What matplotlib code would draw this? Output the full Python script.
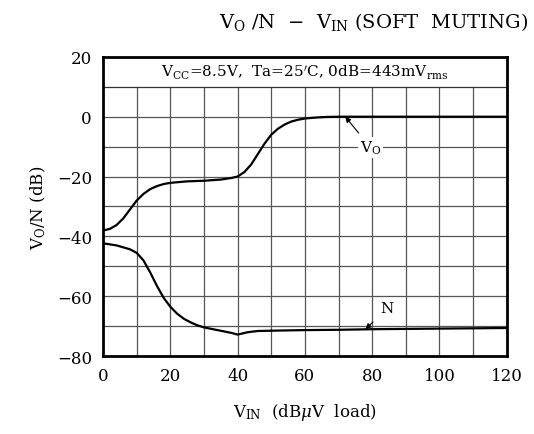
import matplotlib.pyplot as plt

plt.rcParams['font.family'] = ['DejaVu Serif']
plt.rcParams['mathtext.fontset'] = 'dejavuserif'

# 読み取った値
vin_vo = [0, 2, 4, 6, 8, 10, 12, 14, 16, 18, 20, 25, 30, 35, 38, 40, 42, 44, 46, 48, 50,
          52, 54, 56, 58, 60, 63, 66, 70, 80, 100, 120]
vo = [-38, -37.5, -36.2, -34, -31, -28, -25.8, -24.2, -23.2, -22.5, -22.1, -21.6, -21.4, -21,
      -20.5, -20, -18.5, -16, -12.5, -9, -6, -4, -2.6, -1.6, -1, -0.6, -0.3, -0.1, 0, 0, 0, 0]

vin_n = [0, 4, 8, 10, 12, 14, 16, 18, 20, 22, 24, 26, 28, 30, 34, 38, 40, 43, 46, 50,
         60, 70, 80, 100, 120]
noise = [-42.3, -43, -44.3, -45.5, -48, -52, -56.5, -60.5, -63.5, -65.8, -67.5, -68.7,
         -69.7, -70.4, -71.3, -72.2, -72.8, -72, -71.6, -71.5, -71.3, -71.2, -71, -70.8, -70.6]

fig = plt.figure(figsize=(5.34, 4.35), dpi=100)
ax = fig.add_axes([0.193, 0.179, 0.756, 0.688])

ax.set_xlim(0, 120)
ax.set_ylim(-80, 20)

# grid (top row is kept free for the condition text)
for x in range(10, 120, 10):
    ax.plot([x, x], [-80, 10], color='#555555', lw=0.9, zorder=1)
for y in range(-70, 20, 10):
    ax.axhline(y, color='#333333' if y == 10 else '#555555', lw=0.9, zorder=1)

ax.plot(vin_vo, vo, color='black', lw=1.6, zorder=3)
ax.plot(vin_n, noise, color='black', lw=1.6, zorder=3)

ax.text(60, 15, r'V$_{\rm CC}$=8.5V,  Ta=25$^\prime$C, 0dB=443mV$_{\rm rms}$',
        ha='center', va='center', fontsize=11)

ax.annotate(r'V$_{\rm O}$', xy=(72, 0), xytext=(79.5, -10.3), ha='center', va='center',
            fontsize=11, bbox=dict(fc='white', ec='none', pad=1),
            arrowprops=dict(arrowstyle='-|>', color='black', lw=0.8, shrinkA=4, shrinkB=0,
                            mutation_scale=8), zorder=4)
ax.annotate('N', xy=(78, -71), xytext=(84.5, -64), ha='center', va='center',
            fontsize=11,
            arrowprops=dict(arrowstyle='-|>', color='black', lw=0.8, shrinkA=5, shrinkB=0,
                            mutation_scale=8), zorder=4)

ax.set_xticks(range(0, 121, 20))
ax.set_yticks(range(-80, 21, 20))
ax.tick_params(length=0, labelsize=12, pad=8)
for s in ax.spines.values():
    s.set_linewidth(2)

ax.set_xlabel(r'V$_{\rm IN}$  (dB$\mu$V  load)', fontsize=12, labelpad=12)
ax.set_ylabel(r'V$_{\rm O}$/N (dB)', fontsize=12, labelpad=6)
fig.text(0.70, 0.95, r'V$_{\rm O}$ /N  $-$  V$_{\rm IN}$ (SOFT  MUTING)',
         ha='center', va='center', fontsize=14)

fig.savefig('out.png', dpi=100)
